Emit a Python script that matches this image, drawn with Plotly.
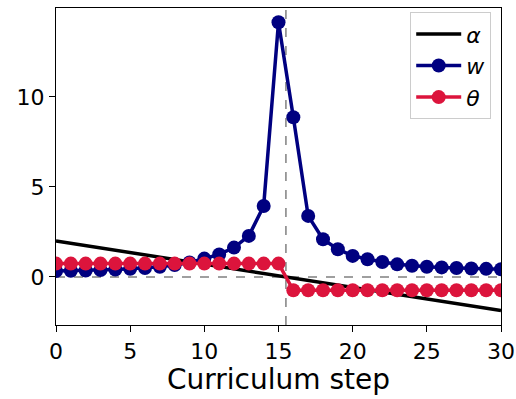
import plotly.graph_objects as go

steps = list(range(31))
alpha = [2.00, 1.87, 1.74, 1.61, 1.48, 1.35, 1.23, 1.10, 0.97, 0.84, 0.71,
         0.58, 0.45, 0.32, 0.19, 0.06, -0.06, -0.19, -0.32, -0.45, -0.58,
         -0.71, -0.84, -0.97, -1.10, -1.23, -1.35, -1.48, -1.61, -1.74, -1.87]
w = [0.33, 0.34, 0.36, 0.38, 0.41, 0.45, 0.50, 0.56, 0.66, 0.80, 1.02,
     1.25, 1.63, 2.28, 3.94, 14.15, 8.87, 3.39, 2.09, 1.54, 1.17,
     0.98, 0.83, 0.70, 0.62, 0.57, 0.53, 0.50, 0.47, 0.45, 0.43]
theta = [0.74] * 16 + [-0.74] * 15
switch_step = 15.5
x_ticks = [0, 5, 10, 15, 20, 25, 30]
y_ticks = [0, 5, 10]

fig = go.Figure()
fig.add_trace(go.Scatter(x=steps, y=alpha, mode="lines", name="<i>α</i>",
                         line=dict(color="black", width=3.5)))
fig.add_trace(go.Scatter(x=steps, y=w, mode="lines+markers", name="<i>w</i>",
                         line=dict(color="#000080", width=3.5),
                         marker=dict(color="#000080", size=14)))
fig.add_trace(go.Scatter(x=steps, y=theta, mode="lines+markers", name="<i>θ</i>",
                         line=dict(color="#DC143C", width=3.5),
                         marker=dict(color="#DC143C", size=14)))

fig.add_shape(type="line", xref="x", yref="paper", x0=switch_step, x1=switch_step,
              y0=0, y1=1, line=dict(color="gray", width=1.5, dash="dash"), layer="below")
fig.add_shape(type="line", xref="x", yref="y", x0=0, x1=30, y0=0, y1=0,
              line=dict(color="gray", width=1.5, dash="dash"), layer="below")

axis_common = dict(showgrid=False, zeroline=False, showline=True, linecolor="black",
                   linewidth=1.2, mirror=True, ticks="outside", ticklen=6,
                   tickwidth=1.2, tickcolor="black", automargin=False,
                   tickfont=dict(family="DejaVu Sans", size=22, color="black"))
fig.update_xaxes(range=[0, 30], tickvals=x_ticks,
                 title=dict(text="Curriculum step", font=dict(family="DejaVu Sans", size=28, color="black"), standoff=6),
                 **axis_common)
fig.update_yaxes(range=[-2.67, 14.94], tickvals=y_ticks, **axis_common)

fig.update_layout(
    width=516, height=399,
    margin=dict(l=56, r=15, t=8, b=74),
    plot_bgcolor="white", paper_bgcolor="white",
    showlegend=True,
    legend=dict(x=0.978, y=0.987, xanchor="right", yanchor="top", itemwidth=45,
                bgcolor="rgba(255,255,255,0.8)", bordercolor="#cccccc", borderwidth=1,
                font=dict(family="DejaVu Sans", size=22, color="black")),
)
fig.write_html("out.html")
